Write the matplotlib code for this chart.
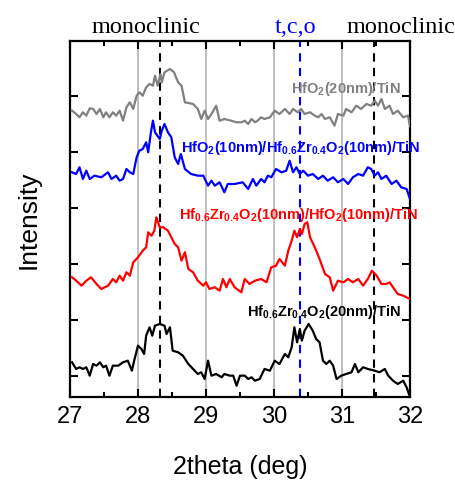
import matplotlib
matplotlib.use("Agg")
import matplotlib.pyplot as plt

plt.rcParams['font.family'] = ['Liberation Sans', 'DejaVu Sans']
plt.rcParams['mathtext.fontset'] = 'custom'
plt.rcParams['mathtext.rm'] = 'Liberation Sans:bold'
plt.rcParams['mathtext.it'] = 'Liberation Sans:bold'
plt.rcParams['mathtext.bf'] = 'Liberation Sans:bold'

# ---------------- data (2theta in deg, intensity in a.u.) ----------------
x_hfo2 = [27.03, 27.09, 27.14, 27.19, 27.24, 27.29, 27.34, 27.39, 27.44, 27.49, 27.53, 27.58,
          27.63, 27.68, 27.73, 27.78, 27.83, 27.88, 27.93, 27.98, 28.02, 28.07, 28.12, 28.17,
          28.22, 28.25, 28.29, 28.33, 28.35, 28.39, 28.47, 28.53, 28.59, 28.64, 28.69, 28.81,
          28.88, 28.93, 28.98, 29.03, 29.08, 29.15, 29.20, 29.27, 29.37, 29.45,
          29.52, 29.57, 29.62, 29.67, 29.72, 29.76, 29.81, 29.86, 29.94, 30.01, 30.08, 30.16,
          30.23, 30.28, 30.35, 30.40, 30.45, 30.53, 30.60, 30.65, 30.70, 30.75, 30.82, 30.89,
          30.94, 31.02, 31.06, 31.14, 31.21, 31.28, 31.36, 31.43, 31.48, 31.53, 31.58, 31.63,
          31.70, 31.75, 31.82, 31.90, 31.97, 32.00]
y_hfo2 = [286.3, 283, 279.7, 284.7, 281.3, 288.7, 288, 283, 288, 279.7, 284.7, 279.7,
          284.7, 281.3, 286.3, 276.3, 289.7, 294.7, 288, 301.3, 304.7, 301.3, 309.7, 313,
          311.3, 321.3, 311.3, 323, 314.7, 324.7, 328, 324.7, 314.7, 311.3, 294.7, 293,
          288, 278, 286.3, 278, 283, 291.3, 276.3, 278, 276.3, 274.7,
          274.7, 276.3, 273, 278, 274.7, 276.3, 279.7, 278, 279.7, 286.3, 283, 288,
          283, 288, 284.7, 288, 283, 284.7, 281.3, 279.7, 283, 278, 279.7, 271.3,
          283, 281.3, 288, 284.7, 291.3, 288, 293, 291.3, 296.3, 291.3, 298, 288,
          291.3, 283, 286.3, 279.7, 281.3, 271]

x_hfo2_hzo = [27.03, 27.09, 27.14, 27.19, 27.24, 27.29, 27.36, 27.46, 27.56, 27.61, 27.68, 27.73,
              27.78, 27.83, 27.88, 27.93, 27.98, 28.02, 28.07, 28.12, 28.15, 28.19, 28.22, 28.25,
              28.32, 28.35, 28.39, 28.44, 28.49, 28.54, 28.59, 28.63, 28.69, 28.78, 28.88, 28.96,
              29.03, 29.08, 29.13, 29.20, 29.27, 29.32, 29.42,
              29.54, 29.62, 29.69, 29.74, 29.81, 29.86, 29.91, 29.96, 30.03, 30.11, 30.18, 30.23,
              30.28, 30.33, 30.38, 30.43, 30.50, 30.57, 30.65, 30.72, 30.79, 30.87, 30.94, 31.02,
              31.09, 31.16, 31.24, 31.31, 31.38, 31.43, 31.48, 31.53, 31.58, 31.65, 31.73, 31.80,
              31.87, 31.95, 32.00]
y_hfo2_hzo = [224.7, 223, 229.7, 218, 226.3, 218, 221.3, 219.7, 224.7, 218, 221.3, 216.3,
              218, 228, 224.7, 223, 239.7, 246.3, 248, 254.7, 244.7, 264.7, 276.3, 264.7,
              258, 266.3, 273, 264.7, 259.7, 239.7, 233, 243, 228, 223, 221.3, 221.3,
              211.3, 216.3, 211.3, 214.7, 204.7, 213, 213,
              214.7, 208, 218, 211.3, 218, 214.7, 221.3, 219.7, 228, 224.7, 226.3, 236.3,
              224.7, 229.7, 223, 226.3, 221.3, 223, 218, 221.3, 216.3, 219.7, 214.7, 218,
              213, 219.7, 223, 221.3, 229.7, 228, 221.3, 224.7, 218, 221.3, 213, 216.3,
              209.7, 208, 198]

x_hzo_hfo2 = [27.03, 27.09, 27.17, 27.24, 27.31, 27.39, 27.46, 27.56, 27.63, 27.68, 27.73, 27.78,
              27.83, 27.88, 27.93, 28.00, 28.07, 28.12, 28.15, 28.20, 28.24, 28.27, 28.32, 28.37,
              28.44, 28.49, 28.54, 28.59, 28.64, 28.69, 28.74, 28.81, 28.88, 28.96, 29.00, 29.05,
              29.13, 29.20, 29.25, 29.30, 29.35, 29.42,
              29.52, 29.57, 29.64, 29.72, 29.81, 29.89, 29.96, 30.03, 30.08, 30.16, 30.21, 30.26,
              30.30, 30.34, 30.38, 30.41, 30.45, 30.49, 30.53, 30.60, 30.67, 30.75, 30.82, 30.87,
              30.94, 31.02, 31.09, 31.16, 31.24, 31.31, 31.38, 31.44, 31.51, 31.58, 31.65, 31.70,
              31.75, 31.82, 31.90, 32.00]
y_hzo_hfo2 = [119.7, 116.3, 111.3, 116.3, 119.7, 113, 108, 111.3, 118, 114.7, 121.3, 116.3,
              124.7, 121.3, 134.7, 139.7, 146.3, 149.7, 164.7, 161.3, 166.3, 179.7, 169.7, 169.7,
              166.3, 159.7, 153, 149.7, 136.3, 144.7, 128, 124.7, 116.3, 111.3, 114.7, 108,
              109.7, 106.3, 118, 109.7, 118, 109.7,
              104.7, 118, 113, 116.3, 118, 114.7, 129.7, 131.3, 138, 131.3, 146.3, 156.3,
              166.3, 159.7, 168, 163, 173, 174.7, 159.7, 149.7, 138, 123, 119.7, 106.3,
              116.3, 114.7, 118, 114.7, 118, 111.3, 118, 126.3, 121.3, 113, 113, 114.7,
              109.7, 103, 101.3, 98]

x_hzo = [27.03, 27.09, 27.14, 27.19, 27.24, 27.29, 27.34, 27.39, 27.44, 27.49, 27.53, 27.58,
         27.63, 27.71, 27.78, 27.85, 27.91, 27.95, 28.00, 28.05, 28.09, 28.12, 28.17, 28.21,
         28.25, 28.32, 28.39, 28.42, 28.47, 28.51, 28.59, 28.66, 28.74, 28.81, 28.88, 28.93,
         28.98, 29.03, 29.08, 29.15, 29.23, 29.27, 29.35, 29.40, 29.45, 29.50,
         29.57, 29.62, 29.67, 29.72, 29.79, 29.86, 29.94, 30.01, 30.08, 30.16, 30.21, 30.26,
         30.30, 30.34, 30.38, 30.41, 30.45, 30.51, 30.57, 30.62, 30.67, 30.72, 30.77, 30.82,
         30.87, 30.92, 30.99, 31.06, 31.14, 31.19, 31.24, 31.31, 31.38, 31.48, 31.55, 31.63,
         31.68, 31.75, 31.82, 31.90, 31.95, 32.00]
y_hzo = [34.7, 28, 29.7, 28, 29.7, 21.3, 33, 31.3, 34.7, 29.7, 31.3, 21.3,
         31.3, 31.3, 34.7, 36.3, 26.3, 38, 51.3, 48, 43, 61.3, 69.7, 61.3,
         71.3, 73, 71.3, 63, 69.7, 46.3, 44.7, 41.3, 33, 28, 23, 24.7,
         18, 36.3, 21.3, 23, 19.7, 23, 21.3, 21.3, 11.3, 21.3,
         21.3, 18, 19.7, 16.3, 18, 28, 26.3, 36.3, 33, 43, 39.7, 49.7,
         69.7, 54.7, 68, 56.3, 66.3, 73, 66.3, 58, 54.7, 36.3, 33, 36.3,
         31.3, 18, 21.3, 23, 24.7, 33, 24.7, 29.7, 28, 26.3, 24.7, 28,
         21.3, 16.3, 13, 16.3, 9.7, 0]

grid_positions = [28, 29, 30, 31]
mono_positions = [28.32, 31.47]
tco_position = 30.38
xticks = [27, 28, 29, 30, 31, 32]
yticks = [21, 77, 133, 189, 245, 301]

# ---------------- figure ----------------
fig = plt.figure(figsize=(4.56, 4.81), dpi=100)
ax = fig.add_axes([0.1535, 0.1726, 0.7456, 0.7401])

for g in grid_positions:
    ax.axvline(g, color='#b4b4b4', lw=1.2, zorder=1)
for m in mono_positions:
    ax.axvline(m, color='black', lw=1.5, ls=(0, (4, 3)), zorder=2)
ax.axvline(tco_position, color='#0000ff', lw=1.5, ls=(0, (4, 3)), zorder=2)

ax.plot(x_hfo2, y_hfo2, color='#808080', lw=1.6, zorder=3)
ax.plot(x_hfo2_hzo, y_hfo2_hzo, color='#0000ff', lw=1.6, zorder=3)
ax.plot(x_hzo_hfo2, y_hzo_hfo2, color='#ff0000', lw=1.6, zorder=3)
ax.plot(x_hzo, y_hzo, color='black', lw=1.6, zorder=3)

lab_kw = dict(fontsize=10.5, fontweight='bold', ha='right', va='center', clip_on=False, zorder=4)
ax.text(31.86, 309, 'HfO$_2$(20nm)/TiN', color='#808080', **lab_kw)
ax.text(32.15, 250, 'HfO$_2$(10nm)/Hf$_{0.6}$Zr$_{0.4}$O$_2$(10nm)/TiN', color='#0000ff', **lab_kw)
ax.text(32.12, 183, 'Hf$_{0.6}$Zr$_{0.4}$O$_2$(10nm)/HfO$_2$(10nm)/TiN', color='#ff0000', **lab_kw)
ax.text(31.86, 86, 'Hf$_{0.6}$Zr$_{0.4}$O$_2$(20nm)/TiN', color='black', **lab_kw)

top_kw = dict(fontsize=17.5, family='Liberation Serif', va='baseline', clip_on=False)
ax.text(27.32, 365, 'monoclinic', ha='left', color='black', **top_kw)
ax.text(30.32, 365, 't,c,o', ha='center', color='#0000ff', **top_kw)
ax.text(31.07, 365, 'monoclinic', ha='left', color='black', **top_kw)

ax.set_xlim(27, 32)
ax.set_ylim(0, 356)
ax.set_xticks(xticks)
ax.set_xticks([27.5, 28.5, 29.5, 30.5, 31.5], minor=True)
ax.set_yticks(yticks)
ax.set_yticklabels([])
ax.tick_params(axis='both', which='both', direction='in', top=True, right=True, width=1.5)
ax.tick_params(axis='both', which='major', length=6)
ax.tick_params(axis='x', which='minor', length=3.5)
ax.tick_params(axis='x', labelsize=17, pad=6)
for s in ax.spines.values():
    s.set_linewidth(1.6)

ax.set_xlabel('2theta (deg)', fontsize=18, labelpad=19)
ax.set_ylabel('Intensity', fontsize=19, labelpad=18)

fig.savefig('out.png', dpi=100)
